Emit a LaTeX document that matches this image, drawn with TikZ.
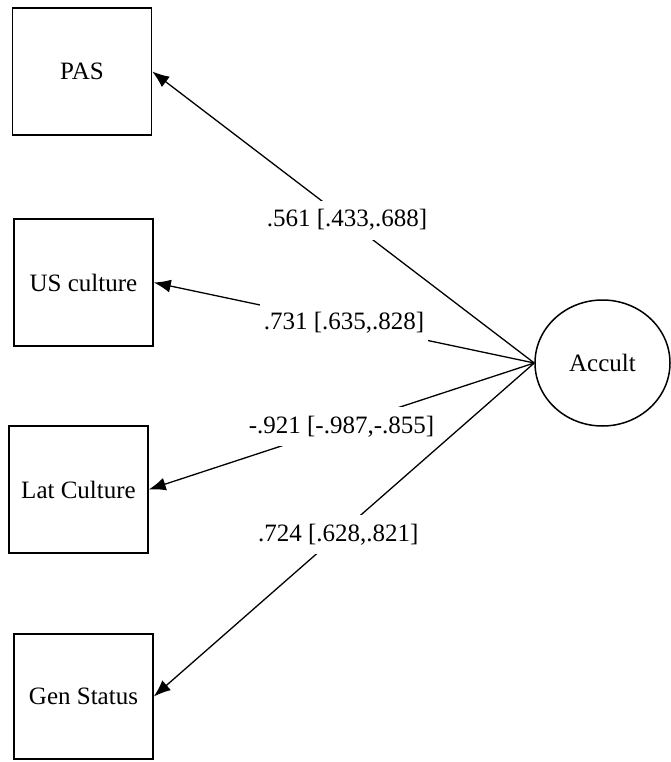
\documentclass[tikz,border=0pt]{standalone}
\usepackage{fontspec}
\setmainfont{Liberation Serif}
\usetikzlibrary{arrows.meta,shapes.geometric}

\begin{document}
\begin{tikzpicture}[x=1pt,y=-1pt,
    every node/.style={font=\fontsize{25}{30}\selectfont},
    obsbox/.style={draw, line width=1.5pt, minimum width=139pt, minimum height=127pt, inner sep=0pt},
    latvar/.style={draw, ellipse, line width=1.5pt, minimum width=135pt, minimum height=126pt, inner sep=0pt},
    loadarrow/.style={-{Latex[length=17pt,width=13pt]}, line width=1.3pt},
    est/.style={fill=white, inner xsep=4pt, inner ysep=9pt}]
  \useasboundingbox (0,0) rectangle (671,762);
  % indicators
  \node[obsbox] (pas) at (82,71.5) {PAS};
  \node[obsbox] (usc) at (83.5,282.5) {US culture};
  \node[obsbox] (latc) at (78.5,489.5) {Lat Culture};
  \node[obsbox, minimum height=125pt] (gen) at (83.5,696.5) {Gen Status};
  % latent factor
  \node[latvar] (accult) at (602.5,363) {Accult};
  % loadings
  \draw[loadarrow] (accult.west) -- node[est, pos=0.49] {.561 [.433,.688]} (pas.east);
  \draw[loadarrow] (accult.west) -- node[est] {.731 [.635,.828]} (usc.east);
  \draw[loadarrow] (accult.west) -- node[est] {-.921 [-.987,-.855]} (latc.east);
  \draw[loadarrow] (accult.west) -- node[est, pos=0.515] {.724 [.628,.821]} (gen.east);
\end{tikzpicture}
\end{document}
